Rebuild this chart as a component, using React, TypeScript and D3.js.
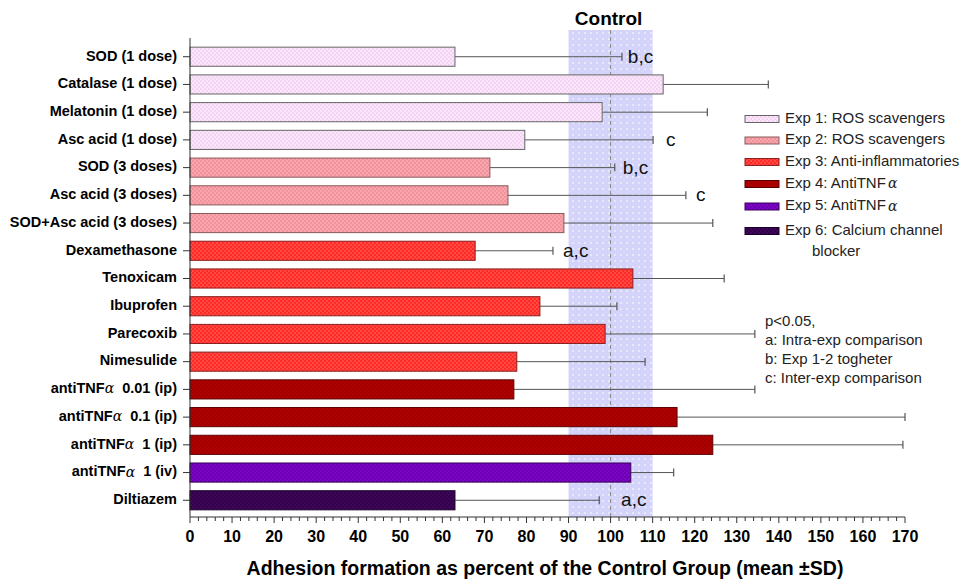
import React from "react";
import * as d3 from "d3";

const categories = [
  "SOD (1 dose)", "Catalase (1 dose)", "Melatonin (1 dose)", "Asc acid (1 dose)",
  "SOD (3 doses)", "Asc acid (3 doses)", "SOD+Asc acid (3 doses)",
  "Dexamethasone", "Tenoxicam", "Ibuprofen", "Parecoxib", "Nimesulide",
  "antiTNFα  0.01 (ip)", "antiTNFα  0.1 (ip)", "antiTNFα  1 (ip)", "antiTNFα  1 (iv)",
  "Diltiazem",
];
const means = [63, 112.5, 98, 79.6, 71.3, 75.6, 88.9, 67.8, 105.3, 83.2, 98.7, 77.7, 77, 115.8, 124.3, 104.8, 63];
const sds = [39.7, 25, 25, 30.5, 29.7, 42.3, 35.4, 18.5, 21.7, 18.3, 35.6, 30.5, 57.3, 54.2, 45.2, 10.2, 34.3];
const groups = [0, 0, 0, 0, 1, 1, 1, 2, 2, 2, 2, 2, 3, 3, 3, 4, 5];
const annotations = ["b,c", "", "", "c", "b,c", "c", "", "a,c", "", "", "", "", "", "", "", "", "a,c"];
const annotationAt = [104.1, 0, 0, 113.2, 102.9, 120.3, 0, 88.7, 0, 0, 0, 0, 0, 0, 0, 0, 102.5];
const legendLabels = [
  "Exp 1: ROS scavengers", "Exp 2: ROS scavengers", "Exp 3: Anti-inflammatories",
  "Exp 4: AntiTNFα", "Exp 5: AntiTNFα", "Exp 6: Calcium channel",
];
const statLines = ["p<0.05,", "a: Intra-exp comparison", "b: Exp 1-2 togheter", "c: Inter-exp comparison"];
const xTicks = d3.range(0, 171, 10);
const controlRange = [90, 110];
const controlValue = 100;

const fills = [
  { a: "#fbe6fb", b: "#f3d4f3", stroke: "#666" },
  { a: "#f7a6ad", b: "#f2929b", stroke: "#8a5a5a" },
  { a: "#ff4a45", b: "#ff2a25", stroke: "#8a2020" },
  { a: "#b00000", b: "#a00000", stroke: "#5a0000" },
  { a: "#7a05c4", b: "#6e00b4", stroke: "#3a005a" },
  { a: "#3d0758", b: "#33004c", stroke: "#1a0028" },
];

const FONT = "Arial, 'Liberation Sans', Helvetica, sans-serif";
const legendYs = [119, 140.5, 162, 184, 206.5, 231];

function Label({ text, x, y }: { text: string; x: number; y: number }) {
  const idx = text.indexOf("α");
  if (idx < 0) {
    return (
      <text x={x} y={y} textAnchor="end" dominantBaseline="middle" fontWeight="bold" fontSize={14.5}>
        {text}
      </text>
    );
  }
  return (
    <text x={x} y={y} textAnchor="end" dominantBaseline="middle" fontWeight="bold" fontSize={14.5} xmlSpace="preserve">
      {text.slice(0, idx)}
      <tspan fontWeight="normal" fontFamily="'DejaVu Serif', serif" fontStyle="italic" fontSize={14}>α</tspan>
      {text.slice(idx + 1)}
    </text>
  );
}

export default function App() {
  const W = 967, H = 582;
  const x = d3.scaleLinear().domain([0, 170]).range([190, 905]);
  const y = d3.scaleBand<string>().domain(categories).range([43, 514]).paddingInner(0.31).paddingOuter(0.15);
  const axisY = 517;
  const bh = y.bandwidth();
  const minorTicks = d3.range(0, 171, 2);

  return (
    <svg width={W} height={H} style={{ position: "fixed", left: 0, top: 0, background: "#fff" }} fontFamily={FONT}>
      <defs>
        {fills.map((f, i) => (
          <pattern key={i} id={`pat${i}`} width={4} height={4} patternUnits="userSpaceOnUse">
            <rect width={4} height={4} fill={f.a} />
            <rect width={2} height={2} fill={f.b} />
            <rect x={2} y={2} width={2} height={2} fill={f.b} />
          </pattern>
        ))}
        <pattern id="ctrl" width={6} height={6} patternUnits="userSpaceOnUse">
          <rect width={6} height={6} fill="#d4d4fa" />
          <rect x={2} y={2} width={2} height={2} fill="#e8e8fd" />
        </pattern>
      </defs>

      {/* control band */}
      <rect x={x(controlRange[0])} y={30} width={x(controlRange[1]) - x(controlRange[0])} height={axisY - 30} fill="url(#ctrl)" />
      <line x1={x(controlValue)} x2={x(controlValue)} y1={30} y2={axisY} stroke="#888" strokeDasharray="4,3" strokeWidth={1} />
      <text x={x(controlValue) - 2} y={25} textAnchor="middle" fontWeight="bold" fontSize={19}>Control</text>

      {/* bars & error bars */}
      {categories.map((c, i) => {
        const yc = (y(c) as number) + bh / 2;
        const g = groups[i];
        const x1 = x(means[i]);
        const x2 = x(means[i] + sds[i]);
        return (
          <g key={c}>
            <line x1={x1} x2={x2} y1={yc} y2={yc} stroke="#555" strokeWidth={1} />
            <line x1={x2} x2={x2} y1={yc - 4} y2={yc + 4} stroke="#555" strokeWidth={1.2} />
            <rect x={x(0)} y={y(c)} width={x1 - x(0)} height={bh} fill={`url(#pat${g})`} stroke={fills[g].stroke} strokeWidth={1} />
            {annotations[i] && (
              <text x={x(annotationAt[i])} y={yc + 1} dominantBaseline="middle" fontSize={19} fill="#111">{annotations[i]}</text>
            )}
            <line x1={183} x2={190} y1={yc} y2={yc} stroke="#333" />
            <Label text={c} x={177} y={yc} />
          </g>
        );
      })}

      {/* y axis */}
      <line x1={190} x2={190} y1={38} y2={axisY} stroke="#333" strokeWidth={1} />

      {/* x axis */}
      <line x1={x(0)} x2={x(170)} y1={axisY} y2={axisY} stroke="#333" strokeWidth={1} />
      {minorTicks.map((t) => (
        <line key={t} x1={x(t)} x2={x(t)} y1={axisY} y2={axisY + (t % 10 === 0 ? 6 : 4)} stroke="#333" />
      ))}
      {xTicks.map((t) => (
        <text key={t} x={x(t)} y={542} textAnchor="middle" fontWeight="bold" fontSize={16}>{t}</text>
      ))}
      <text x={545} y={575} textAnchor="middle" fontWeight="bold" fontSize={19.5}>
        Adhesion formation as percent of the Control Group (mean ±SD)
      </text>

      {/* legend */}
      {legendLabels.map((l, i) => {
        const ly = legendYs[i];
        const idx = l.indexOf("α");
        return (
          <g key={l}>
            <rect x={745} y={ly - 3.5} width={34} height={7} fill={`url(#pat${i})`} stroke={fills[i].stroke} />
            <text x={785} y={ly} dominantBaseline="middle" fontSize={15} fill="#222">
              {idx < 0 ? l : (
                <>
                  {l.slice(0, idx)}
                  <tspan dx={2} fontFamily="'DejaVu Serif', serif" fontStyle="italic" fontSize={14}>α</tspan>
                </>
              )}
            </text>
          </g>
        );
      })}
      <text x={812} y={252} dominantBaseline="middle" fontSize={15} fill="#222">blocker</text>

      {statLines.map((s, i) => (
        <text key={s} x={765} y={322 + i * 19} dominantBaseline="middle" fontSize={15} fill="#222">{s}</text>
      ))}
    </svg>
  );
}
